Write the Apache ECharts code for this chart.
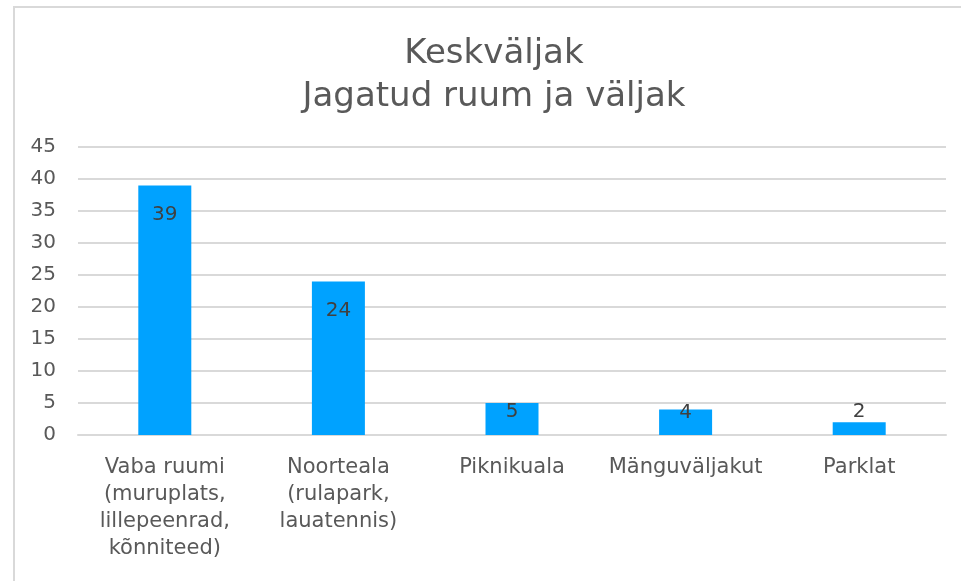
<!DOCTYPE html>
<html>
<head>
<meta charset="utf-8">
<script src="https://cdn.jsdelivr.net/npm/echarts@6/dist/echarts.min.js"></script>
<style>
html,body{margin:0;padding:0;background:#fff;}
#c{width:961px;height:581px;}
</style>
</head>
<body>
<div id="c"></div>
<script>
var titleText = "Keskväljak\nJagatud ruum ja väljak";
var categories = [
  "Vaba ruumi\n(muruplats,\nlillepeenrad,\nkõnniteed)",
  "Noorteala\n(rulapark,\nlauatennis)",
  "Piknikuala",
  "Mänguväljakut",
  "Parklat"
];
var values = [39, 24, 5, 4, 2];
var yTicks = [0, 5, 10, 15, 20, 25, 30, 35, 40, 45];

// label placement tweaks (style only)
var labelDistance = [19, 19, -1, -7, -20];

var chart = echarts.init(document.getElementById('c'), null, {renderer: 'canvas'});
var font = "'DejaVu Sans', 'Liberation Sans', Arial, sans-serif";
chart.setOption({
  animation: false,
  backgroundColor: '#fff',
  textStyle: {fontFamily: font},
  graphic: [{
    type: 'rect',
    shape: {x: 14, y: 7, width: 1200, height: 1000},
    style: {fill: 'none', stroke: '#d9d9d9', lineWidth: 2},
    silent: true
  }],
  title: {
    text: titleText,
    left: 489,
    textAlign: 'center',
    top: 28,
    padding: 5,
    textStyle: {fontFamily: font, fontSize: 34, fontWeight: 'normal', color: '#595959', lineHeight: 43}
  },
  grid: {left: 78, right: 15, top: 147, bottom: 146, containLabel: false},
  xAxis: {
    type: 'category',
    data: categories,
    axisLine: {show: true, lineStyle: {color: '#d9d9d9', width: 2}},
    axisTick: {show: false},
    axisLabel: {
      interval: 0, margin: 19, color: '#595959', fontSize: 21, lineHeight: 27,
      fontFamily: font, verticalAlign: 'top'
    }
  },
  yAxis: {
    type: 'value',
    min: yTicks[0],
    max: yTicks[yTicks.length - 1],
    interval: yTicks[1] - yTicks[0],
    axisLine: {show: false},
    axisTick: {show: false},
    splitLine: {lineStyle: {color: '#d9d9d9', width: 2}},
    axisLabel: {margin: 22, color: '#595959', fontSize: 20, fontFamily: font}
  },
  series: [{
    type: 'bar',
    barWidth: 53,
    itemStyle: {color: '#00A2FF'},
    data: values.map(function (v, i) {
      return {value: v, label: {distance: labelDistance[i]}};
    }),
    label: {
      show: true,
      position: 'insideTop',
      color: '#404040',
      fontSize: 20,
      fontFamily: font
    }
  }]
});
</script>
</body>
</html>
